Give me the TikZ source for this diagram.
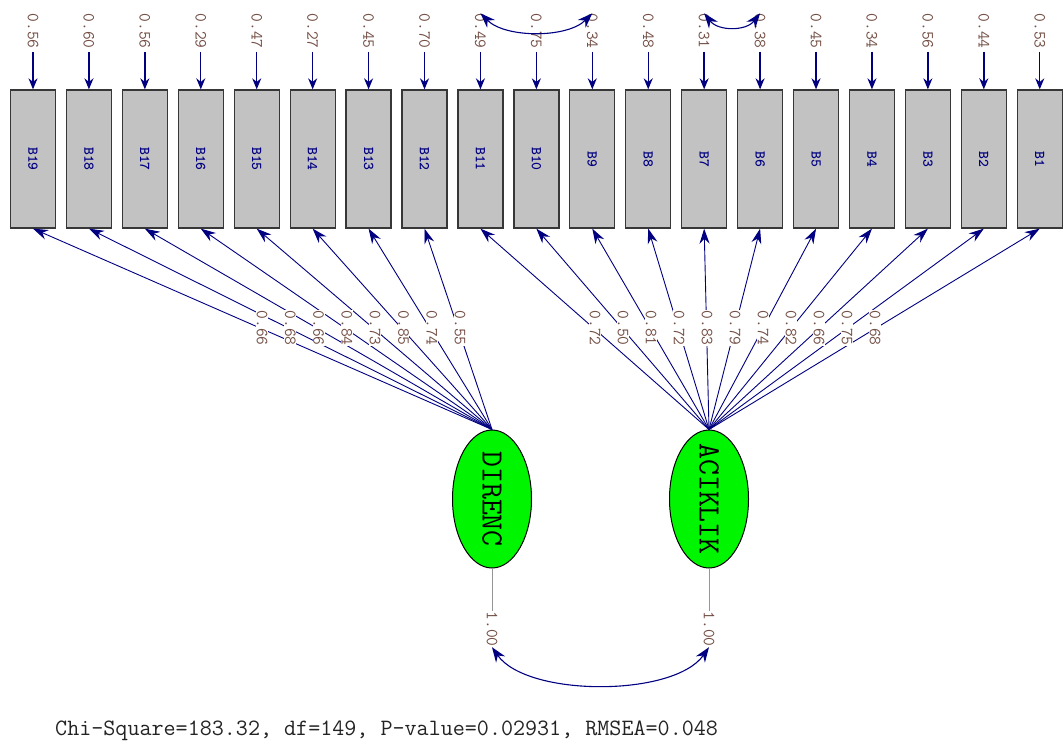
\documentclass[tikz,border=0pt]{standalone}
\usepackage{xcolor}
\usepackage{tikz}
\usetikzlibrary{shapes.geometric}
\usetikzlibrary{arrows.meta}

\definecolor{lisnavy}{RGB}{0,0,128}
\definecolor{boxgray}{RGB}{194,194,194}
\definecolor{boxline}{RGB}{55,55,55}
\definecolor{latgreen}{RGB}{0,245,0}
\definecolor{valbrown}{RGB}{115,78,68}
\definecolor{fixgray}{RGB}{150,150,150}

\begin{document}
\begin{tikzpicture}[x=1pt, y=-1pt,
  obs/.style={rectangle, draw=boxline, fill=boxgray, line width=1.3pt,
    minimum width=45pt, minimum height=138pt, inner sep=0pt, text=lisnavy,
    font=\ttfamily\bfseries\fontsize{15}{15}\selectfont},
  lat/.style={ellipse, draw=black, fill=latgreen, line width=1pt,
    minimum width=79pt, minimum height=138pt, inner sep=-8pt,
    font=\ttfamily\fontsize{31}{31}\selectfont},
  val/.style={inner sep=0.5pt, text=valbrown, font=\ttfamily\fontsize{17}{17}\selectfont},
  errarr/.style={draw=lisnavy, line width=1.4pt, -{Stealth[length=11pt,width=9pt]}},
  load/.style={draw=lisnavy, line width=0.9pt, -{Stealth[length=15pt,width=10pt]}},
  covar/.style={draw=lisnavy, line width=1.1pt, {Stealth[length=15pt,width=11pt]}-{Stealth[length=15pt,width=11pt]}}
]
\useasboundingbox (0,0) rectangle (1063,747);

% observed variables and their error variances
\foreach \n/\ev [count=\i from 0] in {19/0.56, 18/0.60, 17/0.56, 16/0.29, 15/0.47,
    14/0.27, 13/0.45, 12/0.70, 11/0.49, 10/0.75, 9/0.34, 8/0.48, 7/0.31, 6/0.38,
    5/0.45, 4/0.34, 3/0.56, 2/0.44, 1/0.53} {
  \node[obs] (b\n) at ({33+55.93*\i},159) {\rotatebox{-90}{B\n}};
  \node[val, inner sep=0pt] (e\n) at ({33+55.93*\i},31) {\rotatebox{-90}{\ev}};
  \draw[errarr] (e\n.south) ++(0,3) -- (b\n.north);
}

% correlated errors
\draw[covar] (e11.north) .. controls +(25,25) and +(-25,25) .. (e9.north);
\draw[covar] (e7.north) .. controls +(14,18) and +(-14,18) .. (e6.north);

% latent variables
\node[lat] (direnc) at (492,499) {\rotatebox{-90}{DIRENC}};
\node[lat] (aciklik) at (709,499) {\rotatebox{-90}{ACIKLIK}};

% loadings
\foreach \n in {19,18,...,12}
  \draw[load] (direnc.north) -- (b\n.south);
\foreach \n in {11,10,...,1}
  \draw[load] (aciklik.north) -- (b\n.south);

\foreach \n/\lv [count=\k from 0] in {19/0.66, 18/0.68, 17/0.66, 16/0.84,
    15/0.73, 14/0.85, 13/0.74, 12/0.55}
  \node[val, fill=white] (l\n) at ({262+28.3*\k},328) {\rotatebox{-90}{\lv}};
\foreach \n/\lv [count=\k from 0] in {11/0.72, 10/0.50, 9/0.81, 8/0.72, 7/0.83,
    6/0.79, 5/0.74, 4/0.82, 3/0.66, 2/0.75, 1/0.68}
  \node[val, fill=white] (l\n) at ({595+28*\k},328) {\rotatebox{-90}{\lv}};

% factor variances and correlation
\node[val] (vdir) at (492,629) {\rotatebox{-90}{1.00}};
\node[val] (vaci) at (709,629) {\rotatebox{-90}{1.00}};
\draw[fixgray, line width=0.6pt] (direnc.south) -- (vdir.north);
\draw[fixgray, line width=0.6pt] (aciklik.south) -- (vaci.north);
\draw[covar] (vdir.south) .. controls +(35,50) and +(-35,50) .. (vaci.south);

\node[anchor=west, inner sep=0pt, text={rgb,255:red,35;green,35;blue,35},
  font=\ttfamily\fontsize{23.4}{23.4}\selectfont] (fit) at (55,731)
  {Chi-Square=183.32, df=149, P-value=0.02931, RMSEA=0.048};
\end{tikzpicture}
\end{document}
